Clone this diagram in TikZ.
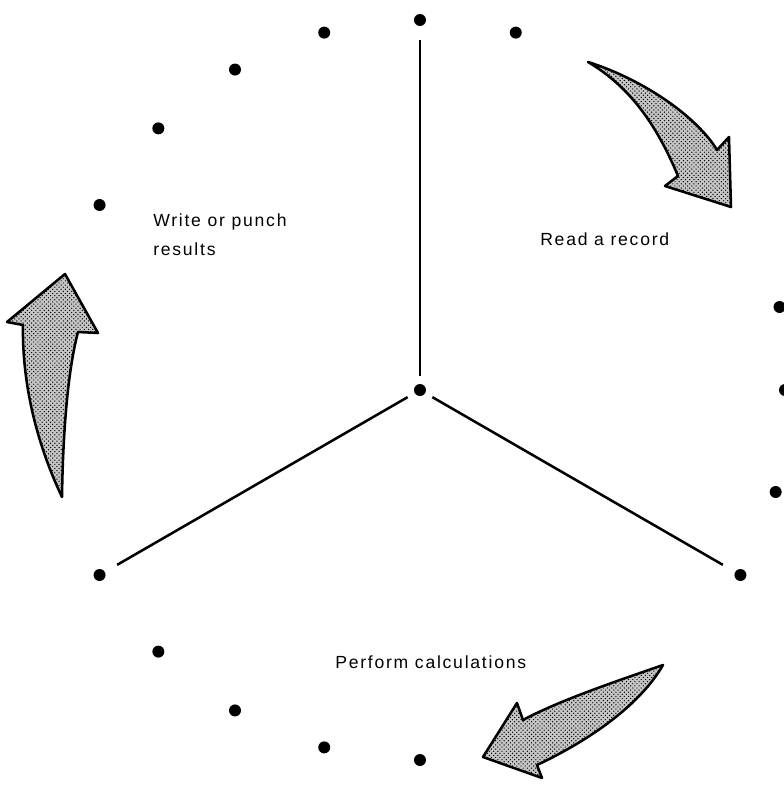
\documentclass[tikz,border=0pt]{standalone}
\usepackage{fontspec}
\setmainfont{Liberation Sans}
\newfontfamily\stepfont[LetterSpace=10]{Liberation Sans}
\usetikzlibrary{patterns}

\tikzset{
  dot/.style={circle, fill=black, inner sep=0pt, minimum size=0.3cm},
  spoke/.style={line width=1.8pt, shorten <=0.2cm, shorten >=0.35cm},
  bigarrow/.style={draw, line width=1.8pt, line join=round,
    preaction={fill=gray!45}, pattern=crosshatch dots},
  steplabel/.style={anchor=base west, inner sep=0pt, align=left,
    font=\stepfont\fontsize{12.5}{20}\selectfont}
}

\begin{document}
\begin{tikzpicture}[x=0.025cm, y=0.025cm]
  % parameters
  \def\R{370}
  \useasboundingbox (-420,-395) rectangle (364,390);

  % centre and the ring of dots
  \node[dot] (o) at (0,0) {};
  \foreach \a in {90,75,105,120,135,150,-30,210,225,240,255,270}
    \node[dot] (d\a) at (\a:\R) {};
  % the right hand side sits a little inside the ring
  \node[dot] (r1) at (13:369) {};
  \node[dot] (r2) at (0:365) {};
  \node[dot] (r3) at (-16:370) {};

  % three spokes
  \draw[spoke] (o) -- (d90);
  \draw[spoke] (o) -- (d-30);
  \draw[spoke] (o) -- (d210);

  % steps
  \node[steplabel] (read) at (120,145) {Read a record};
  \node[steplabel] (calc) at (-85,-278) {Perform calculations};
  \node[steplabel] (write) at (-267,135) {Write or punch\\results};

  % curved arrows between the steps
  \draw[bigarrow] (168,328) .. controls (225,310) and (278,272) .. (297,240)
    -- (309,253) -- (311,183) -- (245,204) -- (258,214)
    .. controls (238,262) and (212,302) .. cycle;
  \draw[bigarrow] (243,-275) .. controls (200,-290) and (140,-310) .. (103,-330)
    -- (97,-313) -- (63,-367) -- (122,-388) -- (117,-375)
    .. controls (170,-350) and (220,-315) .. cycle;
  \draw[bigarrow] (-358,-107) .. controls (-385,-50) and (-398,10) .. (-397,65)
    -- (-413,68) -- (-355,116) -- (-322,57) -- (-342,58)
    .. controls (-352,20) and (-357,-40) .. cycle;
\end{tikzpicture}
\end{document}
